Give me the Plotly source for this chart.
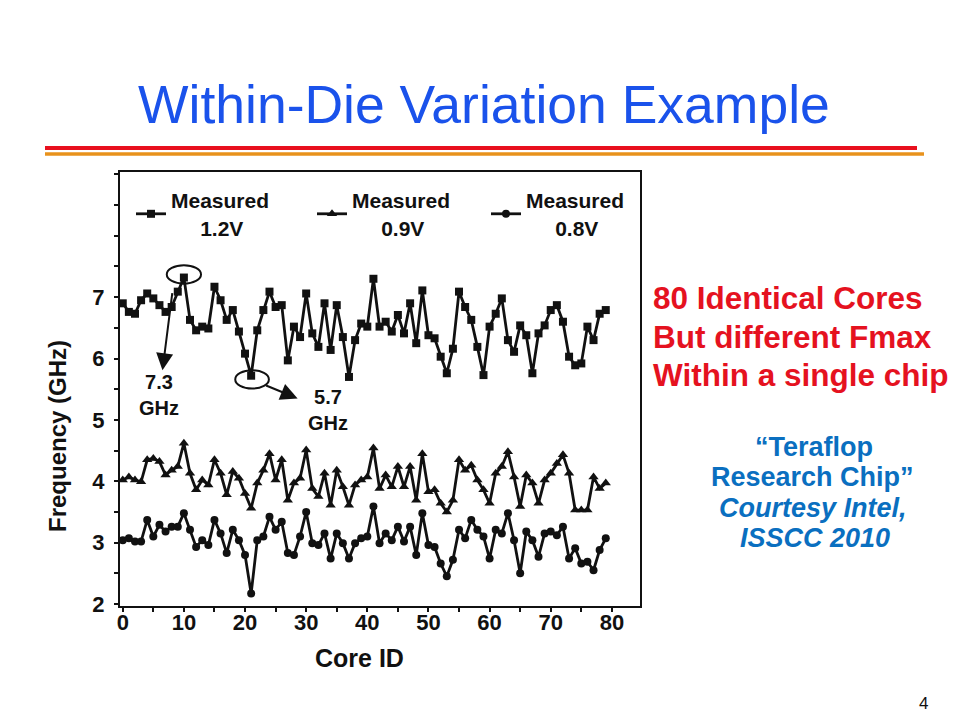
import plotly.graph_objects as go

# ---------------- data ----------------
cores = list(range(80))

freq_12v = [6.90, 6.76, 6.73, 6.95, 7.06, 6.98, 6.87, 6.76, 6.84, 7.09,
            7.32, 6.63, 6.46, 6.52, 6.49, 7.17, 6.95, 6.63, 6.79, 6.44,
            6.08, 5.72, 6.46, 6.79, 7.09, 6.84, 6.87, 5.97, 6.52, 6.35,
            7.06, 6.41, 6.19, 6.90, 6.14, 6.87, 6.35, 5.70, 6.30, 6.57,
            6.52, 7.30, 6.52, 6.60, 6.44, 6.71, 6.41, 6.90, 6.25, 7.11,
            6.38, 6.33, 6.03, 5.76, 6.16, 7.09, 6.84, 6.63, 6.19, 5.73,
            6.52, 6.73, 6.98, 6.30, 6.11, 6.54, 6.38, 5.76, 6.41, 6.54,
            6.79, 6.87, 6.60, 6.03, 5.89, 5.92, 6.52, 6.30, 6.73, 6.79]

freq_09v = [4.02, 4.07, 4.02, 3.99, 4.35, 4.37, 4.32, 4.10, 4.18, 4.24,
            4.62, 4.13, 3.86, 4.02, 3.94, 4.35, 4.13, 3.78, 4.16, 4.05,
            3.80, 3.56, 3.97, 4.18, 4.45, 4.02, 4.35, 3.69, 3.97, 4.05,
            4.51, 3.88, 3.75, 4.13, 3.61, 4.18, 3.91, 3.61, 3.94, 4.02,
            4.07, 4.54, 3.88, 4.10, 3.91, 4.24, 3.91, 4.24, 3.69, 4.45,
            3.83, 3.86, 3.64, 3.50, 3.69, 4.35, 4.18, 4.26, 4.02, 3.86,
            3.64, 4.13, 4.24, 4.48, 4.07, 3.59, 4.10, 3.97, 3.64, 4.02,
            4.13, 4.29, 4.43, 4.13, 3.53, 3.53, 3.53, 4.07, 3.88, 3.97]

freq_08v = [3.04, 3.07, 3.02, 3.02, 3.37, 3.10, 3.29, 3.18, 3.26, 3.26,
            3.48, 3.21, 2.93, 3.04, 2.96, 3.37, 3.15, 2.83, 3.21, 3.04,
            2.80, 2.17, 3.04, 3.10, 3.42, 3.21, 3.34, 2.83, 2.80, 3.10,
            3.50, 2.99, 2.96, 3.15, 2.74, 3.15, 2.99, 2.74, 2.99, 3.07,
            3.10, 3.59, 2.99, 3.15, 3.04, 3.26, 3.02, 3.26, 2.80, 3.48,
            2.96, 2.93, 2.66, 2.45, 2.72, 3.21, 3.07, 3.37, 3.21, 3.10,
            2.74, 3.21, 3.15, 3.48, 3.04, 2.50, 3.18, 3.04, 2.77, 3.15,
            3.18, 3.12, 3.26, 2.74, 2.91, 2.66, 2.69, 2.55, 2.88, 3.07]

series_labels = ["Measured", "Measured", "Measured"]
series_voltages = ["1.2V", "0.9V", "0.8V"]
series_symbols = ["square", "triangle-up", "circle"]

x_ticks = [0, 10, 20, 30, 40, 50, 60, 70, 80]
y_ticks = [2, 3, 4, 5, 6, 7]

title_text = "Within-Die Variation Example"
red_lines = ["80 Identical Cores", "But different Fmax", "Within a single chip"]
blue_lines = ["\u201cTeraflop", "Research Chip\u201d", "<i>Courtesy Intel,</i>", "<i>ISSCC 2010</i>"]
page_number = "4"

# ---------------- layout helpers (page pixel -> paper) ----------------
OFF = 8                      # browser body margin
FW, FH = 960 - 2 * OFF, 720 - 2 * OFF
L, R, T, B = 120, 640, 172, 606   # plot frame in page pixels


def px(x):
    return (x - L) / (R - L)


def py(y):
    return (B - y) / (B - T)


FONT = "Liberation Sans, Arial, sans-serif"
BLACK = "#111111"

legend_ids = ["legend", "legend2", "legend3"]
legend_x = [131, 312, 486]

fig = go.Figure()
for vals, lab, volt, sym, msize, lid in zip([freq_12v, freq_09v, freq_08v],
                                            series_labels, series_voltages,
                                            series_symbols, [8, 9, 8], legend_ids):
    name = lab + "<br>" + "\u00a0" * 5 + volt
    fig.add_trace(go.Scatter(
        x=cores, y=vals, mode="lines+markers", name=name, legend=lid,
        line=dict(color=BLACK, width=2.8),
        marker=dict(symbol=sym, size=msize, color=BLACK),
    ))

axis_common = dict(
    showline=True, linecolor=BLACK, linewidth=2, mirror=True,
    showgrid=False, zeroline=False, ticks="outside", ticklen=4,
    tickwidth=2, tickcolor=BLACK,
    tickfont=dict(family=FONT, size=22, color=BLACK, weight="bold"),
)

fig.update_xaxes(range=[-0.45, 84.6], tickvals=x_ticks, ticklabelstandoff=-8,
                 minor=dict(dtick=5, ticks="outside", ticklen=4, tickwidth=2, tickcolor=BLACK),
                 **axis_common)
fig.update_yaxes(range=[1.967, 9.04], tickvals=y_ticks, ticklabelstandoff=5,
                 minor=dict(dtick=0.5, ticks="outside", ticklen=4, tickwidth=2, tickcolor=BLACK),
                 **axis_common)

# ---- peak / minimum call-outs derived from the 1.2V data ----
i_max = max(range(len(freq_12v)), key=lambda i: freq_12v[i])
i_min = min(range(len(freq_12v)), key=lambda i: freq_12v[i] if i < 30 else 99)
cx, cy = cores[i_max], freq_12v[i_max]
mx, my = cores[i_min], freq_12v[i_min]

shapes = [
    dict(type="circle", xref="x", yref="y", x0=cx - 2.8, x1=cx + 2.8,
         y0=cy - 0.10, y1=cy + 0.20, line=dict(color=BLACK, width=2)),
    dict(type="circle", xref="x", yref="y", x0=mx - 2.6, x1=mx + 2.9,
         y0=my - 0.21, y1=my + 0.09, line=dict(color=BLACK, width=2)),
    # slide header rules
    dict(type="line", xref="paper", yref="paper", x0=px(45), x1=px(917),
         y0=py(148), y1=py(148), line=dict(color="#E8101E", width=4)),
    dict(type="line", xref="paper", yref="paper", x0=px(45), x1=px(924),
         y0=py(154), y1=py(154), line=dict(color="#E8921C", width=3.5)),
]

ann = []
# arrows
ann.append(dict(x=cx - 3.5, y=cy - 1.51, ax=cx - 1.87, ay=cy - 0.23,
                xref="x", yref="y", axref="x", ayref="y", text="",
                showarrow=True, arrowhead=2, arrowsize=1.7, arrowwidth=2,
                arrowcolor=BLACK, standoff=0, startstandoff=0))
ann.append(dict(x=mx + 7.6, y=my - 0.37, ax=mx + 2.2, ay=my - 0.15,
                xref="x", yref="y", axref="x", ayref="y", text="",
                showarrow=True, arrowhead=2, arrowsize=1.7, arrowwidth=2,
                arrowcolor=BLACK, standoff=0, startstandoff=0))
ann.append(dict(x=cx - 4.1, y=cy - 1.92, xref="x", yref="y",
                text="%.1f<br>GHz" % 7.3, showarrow=False,
                font=dict(family=FONT, size=20, color=BLACK, weight="bold")))
ann.append(dict(x=mx + 12.5, y=my - 0.56, xref="x", yref="y",
                text="%.1f<br>GHz" % 5.7, showarrow=False,
                font=dict(family=FONT, size=20, color=BLACK, weight="bold")))

# axis titles
ann.append(dict(x=px(359), y=py(658), xref="paper", yref="paper", text="Core ID",
                showarrow=False, xanchor="center", yanchor="middle",
                font=dict(family=FONT, size=25, color=BLACK, weight="bold")))
ann.append(dict(x=px(57), y=py(436), xref="paper", yref="paper", text="Frequency (GHz)",
                showarrow=False, textangle=-90, xanchor="center", yanchor="middle",
                font=dict(family=FONT, size=24, color=BLACK, weight="bold")))

# slide title
ann.append(dict(x=px(484), y=py(104), xref="paper", yref="paper", text=title_text,
                showarrow=False, xanchor="center", yanchor="middle",
                font=dict(family=FONT, size=53.5, color="#1A52EB")))

# red statement
for txt, yc in zip(red_lines, [298, 337, 375]):
    ann.append(dict(x=px(651), y=py(yc), xref="paper", yref="paper", text=txt,
                    showarrow=False, xanchor="left", yanchor="middle",
                    font=dict(family=FONT, size=31.5, color="#E5121F", weight="bold")))

# blue credit
for txt, xc, yc in zip(blue_lines, [814, 812, 813, 815], [447, 477, 508, 538]):
    ann.append(dict(x=px(xc), y=py(yc), xref="paper", yref="paper", text=txt,
                    showarrow=False, xanchor="center", yanchor="middle",
                    font=dict(family=FONT, size=27, color="#0A6FC0", weight="bold")))

ann.append(dict(x=px(923), y=py(703), xref="paper", yref="paper", text=page_number,
                showarrow=False, xanchor="center", yanchor="middle",
                font=dict(family=FONT, size=17, color=BLACK)))

legend_style = dict(orientation="h", xanchor="left", yanchor="top",
                    bgcolor="rgba(0,0,0,0)", borderwidth=0, valign="middle",
                    font=dict(family=FONT, size=21, color=BLACK, weight="bold"))

fig.update_layout(
    width=FW, height=FH,
    margin=dict(l=L - OFF, r=(FW + OFF) - R, t=T - OFF, b=(FH + OFF) - B, pad=0),
    paper_bgcolor="white", plot_bgcolor="white",
    showlegend=True,
    legend=dict(x=px(legend_x[0]), y=py(180), **legend_style),
    legend2=dict(x=px(legend_x[1]), y=py(180), **legend_style),
    legend3=dict(x=px(legend_x[2]), y=py(180), **legend_style),
    shapes=shapes, annotations=ann,
)

fig.write_html("out.html")
